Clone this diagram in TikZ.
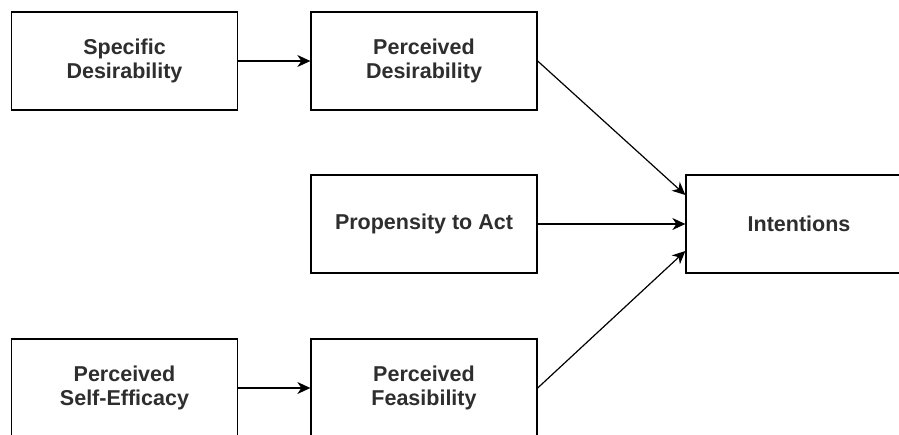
\documentclass[tikz,border=0pt]{standalone}
\usepackage{fontspec}
\setmainfont{Liberation Sans}
\usetikzlibrary{arrows.meta}
\definecolor{labelgray}{HTML}{2E2E2E}
\tikzset{
  box/.style={draw=black, line width=1.3pt, fill=white, rectangle,
    minimum width=226pt, minimum height=98pt, inner sep=0pt,
    align=center, text=labelgray,
    font=\fontsize{21.5}{23.5}\selectfont\bfseries},
  link/.style={draw=black, line width=1.2pt,
    -{Stealth[length=13pt, width=12pt, inset=4pt]}}
}
\begin{document}
\begin{tikzpicture}[x=1pt, y=1pt]
  \useasboundingbox (0,0) rectangle (899,-434);
  \clip (0,0) rectangle (899,-434);
  % top row
  \node[box] (sd) at (124.5,-61) {Specific\\Desirability};
  \node[box] (pd) at (424,-61) {Perceived\\Desirability};
  % middle row
  \node[box] (pa) at (424,-224) {Propensity to Act};
  \node[box] (in) at (799,-224) {Intentions};
  % bottom row
  \node[box] (se) at (124.5,-388) {Perceived\\Self-Efficacy};
  \node[box] (pf) at (424,-388) {Perceived\\Feasibility};
  % connectors
  \draw[link] (sd.east) -- (pd.west);
  \draw[link] (se.east) -- (pf.west);
  \draw[link] (pa.east) -- (in.west);
  \draw[link] (pd.east) -- ([yshift=29pt]in.west);
  \draw[link] (pf.east) -- ([yshift=-27pt]in.west);
\end{tikzpicture}
\end{document}
